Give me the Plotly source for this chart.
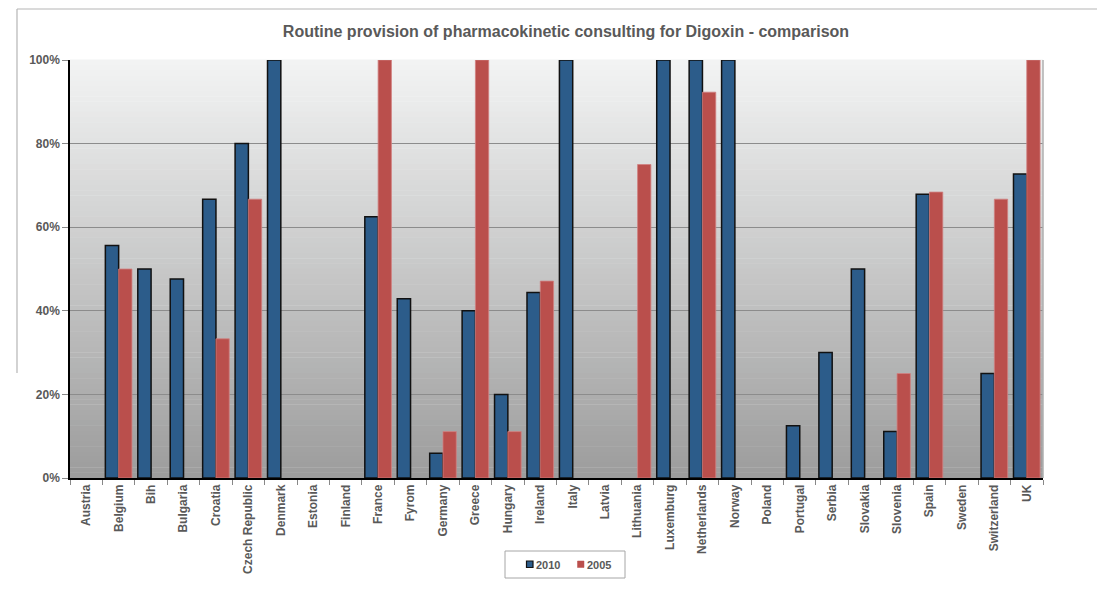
import plotly.graph_objects as go

countries = ["Austria", "Belgium", "Bih", "Bulgaria", "Croatia", "Czech Republic", "Denmark",
             "Estonia", "Finland", "France", "Fyrom", "Germany", "Greece", "Hungary", "Ireland",
             "Italy", "Latvia", "Lithuania", "Luxemburg", "Netherlands", "Norway", "Poland",
             "Portugal", "Serbia", "Slovakia", "Slovenia", "Spain", "Sweden", "Switzerland", "UK"]

values_2010 = [0, 55.6, 50, 47.6, 66.7, 80, 100,
               0, 0, 62.5, 42.9, 5.9, 40, 20, 44.4,
               100, 0, 0, 100, 100, 100, 0,
               12.5, 30, 50, 11.1, 67.9, 0, 25, 72.7]

values_2005 = [0, 50, 0, 0, 33.3, 66.7, 0,
               0, 0, 100, 0, 11.1, 100, 11.1, 47.1,
               0, 0, 75, 0, 92.3, 0, 0,
               0, 0, 0, 25, 68.4, 0, 66.7, 100]

series_names = ["2010", "2005"]
y_ticks = [0, 20, 40, 60, 80, 100]
y_tick_labels = ["0%", "20%", "40%", "60%", "80%", "100%"]

BLUE = "#2C5C8A"
RED = "#BA4F4C"
TXT = "#595959"
FONT = "Liberation Sans, Arial, sans-serif"

# page geometry (body has 8px margin)
W, H = 1097, 583
L, T = 62, 52
PW, PH = 973, 418
R = W - L - PW
B = H - T - PH
OX, OY = 8 + L, 8 + T  # page coords of plot area top-left


def px(x):
    return (x - OX) / PW


def py(y):
    return (OY + PH - y) / PH


fig = go.Figure()
fig.add_trace(go.Bar(name=series_names[0], x=countries, y=values_2010, showlegend=False,
                     marker=dict(color=BLUE,
                                 line=dict(color="#111111",
                                           width=[1.5 if v > 0 else 0 for v in values_2010]))))
fig.add_trace(go.Bar(name=series_names[1], x=countries, y=values_2005, showlegend=False,
                     marker=dict(color=RED,
                                 line=dict(color="#D08080",
                                           width=[0.8 if v > 0 else 0 for v in values_2005]))))

# gradient plot background via stacked strips
shapes = []
n = 80
top = (0xF3, 0xF4, 0xF4)
bot = (0x9C, 0x9C, 0x9C)
for i in range(n):
    t = (i + 0.5) / n
    c = tuple(round(top[k] + (bot[k] - top[k]) * t) for k in range(3))
    shapes.append(dict(type="rect", xref="paper", yref="paper",
                       x0=0, x1=1, y0=1 - (i + 1) / n, y1=1 - i / n + 0.001,
                       fillcolor="rgb(%d,%d,%d)" % c, line=dict(width=0), layer="below"))
# plot area right border
shapes.append(dict(type="line", xref="paper", yref="paper", x0=1, x1=1, y0=0, y1=1,
                   line=dict(color="#AFAFAF", width=1.5)))
# outer chart border (top and left)
shapes.append(dict(type="line", xref="paper", yref="paper",
                   x0=px(17), x1=px(1110), y0=py(9), y1=py(9),
                   line=dict(color="#B5B5B5", width=1.2)))
shapes.append(dict(type="line", xref="paper", yref="paper",
                   x0=px(17), x1=px(17), y0=py(9), y1=py(373),
                   line=dict(color="#B5B5B5", width=1.2)))
# legend box and symbols
shapes.append(dict(type="rect", xref="paper", yref="paper",
                   x0=px(505), x1=px(625), y0=py(551), y1=py(578),
                   fillcolor="white", line=dict(color="#A6A6A6", width=1)))
shapes.append(dict(type="rect", xref="paper", yref="paper",
                   x0=px(526.5), x1=px(533), y0=py(561), y1=py(567.5),
                   fillcolor=BLUE, line=dict(color="#111111", width=1.2)))
shapes.append(dict(type="rect", xref="paper", yref="paper",
                   x0=px(577.5), x1=px(584), y0=py(561), y1=py(567.5),
                   fillcolor=RED, line=dict(color=RED, width=0.5)))

annotations = [
    dict(text="<b>%s</b>" % series_names[0], xref="paper", yref="paper", x=px(534), y=py(564.5),
         xanchor="left", yanchor="middle", showarrow=False,
         font=dict(family=FONT, size=11, color=TXT)),
    dict(text="<b>%s</b>" % series_names[1], xref="paper", yref="paper", x=px(585), y=py(564.5),
         xanchor="left", yanchor="middle", showarrow=False,
         font=dict(family=FONT, size=11, color=TXT)),
]

fig.update_layout(
    width=W, height=H,
    margin=dict(l=L, r=R, t=T, b=B),
    paper_bgcolor="white",
    plot_bgcolor="rgba(0,0,0,0)",
    barmode="group",
    bargap=0.18,
    bargroupgap=0,
    shapes=shapes,
    annotations=annotations,
    title=dict(text="<b>Routine provision of pharmacokinetic consulting for Digoxin - comparison</b>",
               x=(566 - 8) / W, xanchor="center", y=1 - (31 - 8) / H, yanchor="middle",
               font=dict(family=FONT, size=16, color=TXT)),
    font=dict(family=FONT, color=TXT),
    showlegend=False,
    xaxis=dict(
        tickangle=-90, tickfont=dict(family=FONT, size=12, color=TXT),
        showline=True, linecolor="black", linewidth=1.5,
        ticks="outside", tickson="boundaries", ticklen=5, tickcolor="#888888",
        showgrid=False, range=[-0.5, 29.5],
        tickprefix="<b>", ticksuffix="</b>",
    ),
    yaxis=dict(
        range=[0, 100], tickvals=y_ticks, ticktext=["<b>%s</b>" % t for t in y_tick_labels],
        tickfont=dict(family=FONT, size=12, color=TXT),
        showline=True, linecolor="black", linewidth=1.5,
        ticks="outside", ticklen=6, tickcolor="#888888",
        showgrid=True, gridcolor="#8C8C8C", gridwidth=1, zeroline=False,
    ),
)

fig.write_html("out.html")
